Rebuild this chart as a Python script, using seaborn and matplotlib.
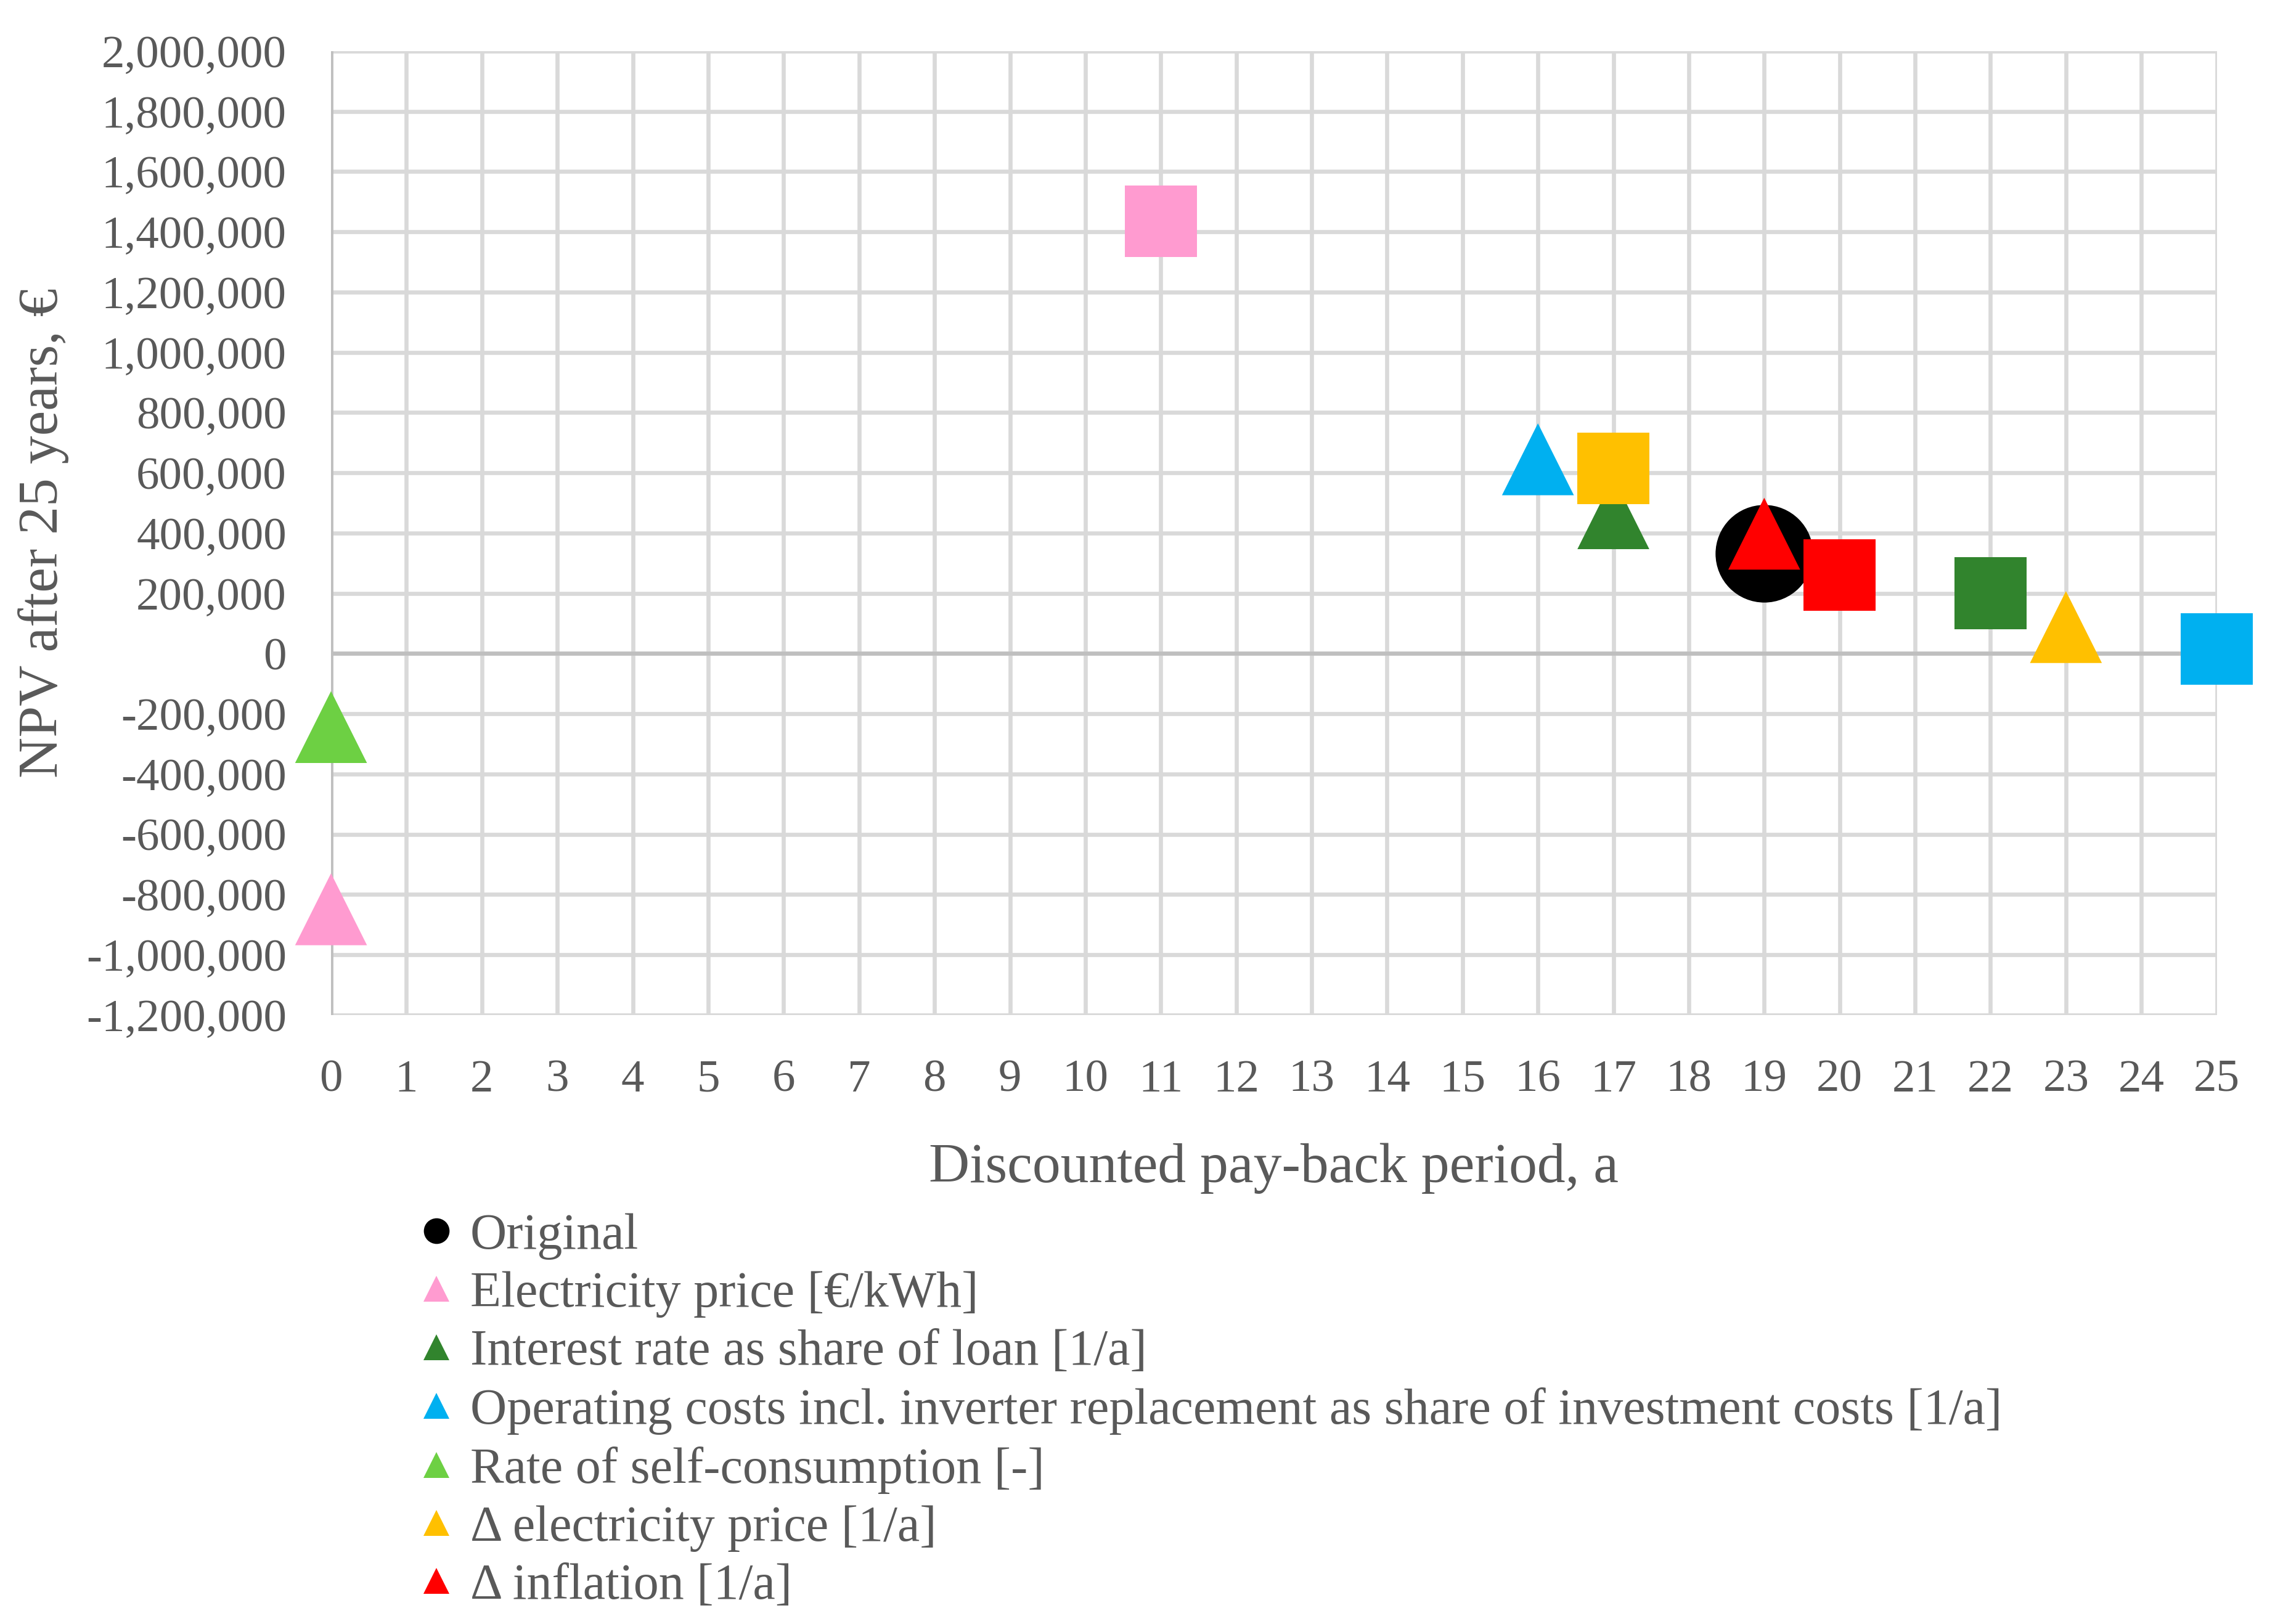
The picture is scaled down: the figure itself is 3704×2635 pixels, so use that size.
import matplotlib.pyplot as plt
import seaborn as sns
import pandas as pd
from matplotlib.lines import Line2D
from matplotlib.ticker import FuncFormatter, MultipleLocator

# sensitivity of the PV investment: each parameter varied down (triangle) and up (square)
original_payback = 19
original_npv = 333000

parameters = [
    "Electricity price [€/kWh]",
    "Interest rate as share of loan [1/a]",
    "Operating costs incl. inverter replacement as share of investment costs [1/a]",
    "Rate of self-consumption [-]",
    "Δ electricity price [1/a]",
    "Δ inflation [1/a]",
]
colors = ["#FF9BD0", "#31842D", "#00B0F0", "#6DD043", "#FFC000", "#FF0000"]

low_payback = [0, 17, 16, 0, 23, 19]
low_npv = [-849000, 466000, 645000, -244000, 88000, 398000]

high_parameters = [
    "Electricity price [€/kWh]",
    "Interest rate as share of loan [1/a]",
    "Operating costs incl. inverter replacement as share of investment costs [1/a]",
    "Δ electricity price [1/a]",
    "Δ inflation [1/a]",
]
high_payback = [11, 22, 25, 17, 20]
high_npv = [1435000, 201000, 15000, 615000, 261000]

x_ticks = list(range(0, 26))

text_grey = "#595959"

sns.set_style("white")
plt.rcParams["font.family"] = ["Liberation Serif", "DejaVu Serif"]

palette = dict(zip(parameters, colors))
low_df = pd.DataFrame({"payback": low_payback, "npv": low_npv, "parameter": parameters})
high_df = pd.DataFrame({"payback": high_payback, "npv": high_npv, "parameter": high_parameters})
orig_df = pd.DataFrame({"payback": [original_payback], "npv": [original_npv]})

fig = plt.figure(figsize=(3704 / 200, 2635 / 200), dpi=200)
ax = fig.add_axes([0.145, 0.375, 0.826, 0.5935])

sns.scatterplot(data=orig_df, x="payback", y="npv", color="black", marker="o",
                s=57 ** 2, linewidth=0, ax=ax, clip_on=False, zorder=3, legend=False)
sns.scatterplot(data=low_df, x="payback", y="npv", hue="parameter", palette=palette,
                marker="^", s=42 ** 2, linewidth=0, ax=ax, clip_on=False, zorder=4, legend=False)
sns.scatterplot(data=high_df, x="payback", y="npv", hue="parameter", palette=palette,
                marker="s", s=42 ** 2, linewidth=0, ax=ax, clip_on=False, zorder=5, legend=False)

ax.set_xlim(0, 25)
ax.set_ylim(-1200000, 2000000)
ax.set_xticks(x_ticks)
ax.yaxis.set_major_locator(MultipleLocator(200000))
ax.yaxis.set_major_formatter(FuncFormatter(lambda v, p: f"{v:,.0f}"))

ax.grid(True, color="#D9D9D9", linewidth=2.4)
ax.set_axisbelow(True)
ax.axhline(0, color="#BFBFBF", linewidth=2.4, zorder=1)
ax.axvline(0, color="#BFBFBF", linewidth=2.4, zorder=1)
for side in ax.spines.values():
    side.set_visible(False)

ax.tick_params(axis="both", length=0, labelsize=27, labelcolor=text_grey)
ax.tick_params(axis="x", pad=26)
ax.tick_params(axis="y", pad=26)

ax.set_xlabel("Discounted pay-back period, a", fontsize=33, color=text_grey)
ax.set_ylabel("NPV after 25 years, €", fontsize=33, color=text_grey)
ax.xaxis.set_label_coords(0.5, -0.133)
ax.yaxis.set_label_coords(-0.139, 0.5)

handles = [Line2D([], [], linestyle="", marker="o", markersize=15, color="black",
                  markeredgewidth=0, label="Original")]
for name, col in zip(parameters, colors):
    handles.append(Line2D([], [], linestyle="", marker="^", markersize=15, color=col,
                          markeredgewidth=0, label=name))

fig.legend(handles=handles, loc="upper left", bbox_to_anchor=(0.185, 0.253),
           frameon=False, fontsize=29.5, labelcolor=text_grey, handlelength=0.55,
           handletextpad=0.4, labelspacing=0.228, borderpad=0, borderaxespad=0)

fig.savefig("out.png", dpi=200, facecolor="white")
